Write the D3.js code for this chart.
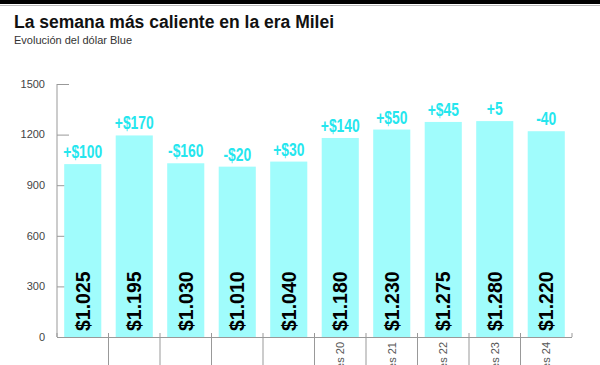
<!DOCTYPE html>
<html><head><meta charset="utf-8">
<script src="https://cdn.jsdelivr.net/npm/d3@7"></script>
<style>
html,body{margin:0;padding:0;background:#fff;overflow:hidden}
svg{display:block}
</style></head>
<body>
<svg id="chart" width="600" height="365"></svg>
<script>
const categories = ["Lunes 13","Martes 14","Miércoles 15","Jueves 16","Viernes 17","Lunes 20","Martes 21","Miércoles 22","Jueves 23","Viernes 24"];
const tickLabels = ["","","","","","Lunes 20","Martes 21","Miércoles 22","Jueves 23","Viernes 24"];
const values = [1025,1195,1030,1010,1040,1180,1230,1275,1280,1220];
const valueLabels = ["$1.025","$1.195","$1.030","$1.010","$1.040","$1.180","$1.230","$1.275","$1.280","$1.220"];
const changeLabels = ["+$100","+$170","-$160","-$20","+$30","+$140","+$50","+$45","+5","-40"];
const yTicks = [0,300,600,900,1200,1500];

const svg = d3.select("#chart");
const mLeft = 57, mRight = 572, mTop = 84, mBottom = 337;

svg.append("rect").attr("x",0).attr("y",0).attr("width",600).attr("height",4).attr("fill","#000");
svg.append("line").attr("x1",0).attr("x2",600).attr("y1",5.5).attr("y2",5.5).attr("stroke","#bbb").attr("stroke-width",1);

svg.append("text").attr("x",14).attr("y",28)
  .style("font-family","'Liberation Sans', Arial, sans-serif").style("font-weight","bold").style("font-size","17.5px")
  .attr("fill","#111").text("La semana más caliente en la era Milei");
svg.append("text").attr("x",14).attr("y",44)
  .style("font-family","'Liberation Sans', Arial, sans-serif").style("font-size","11px")
  .attr("fill","#333").text("Evolución del dólar Blue");

const x = d3.scaleBand().domain(categories).range([mLeft, mRight]).paddingInner(0.28).paddingOuter(0.14);
const y = d3.scaleLinear().domain([0,1500]).range([mBottom, mTop]);

// y axis
const yAxis = svg.append("g").attr("transform",`translate(${mLeft},0)`)
  .call(d3.axisRight(y).tickValues(yTicks).tickSize(12).tickFormat(""));
yAxis.select(".domain").remove();
yAxis.selectAll(".tick line").attr("stroke","#999");
svg.append("line").attr("x1",mLeft).attr("x2",mLeft).attr("y1",mTop).attr("y2",mBottom).attr("stroke","#999");
svg.append("g").selectAll("text").data(yTicks).join("text")
  .attr("x",45).attr("y",d=>y(d)).attr("dy","0.35em").attr("text-anchor","end")
  .style("font-family","'Liberation Sans', Arial, sans-serif").style("font-size","11px").attr("fill","#444")
  .text(d=>d);

// bars
svg.append("g").selectAll("rect").data(values).join("rect")
  .attr("x",(d,i)=>x(categories[i])).attr("width",x.bandwidth())
  .attr("y",d=>y(d)).attr("height",d=>y(0)-y(d)).attr("fill","#a0fcfc");

// x baseline and separators
const step = x.step();
const boundaries = d3.range(categories.length + 1).map(i => x(categories[0]) - step*x.paddingInner()/2 + i*step);
svg.append("line").attr("x1",mLeft).attr("x2",mRight).attr("y1",mBottom+0.5).attr("y2",mBottom+0.5).attr("stroke","#999");
svg.append("g").selectAll("line").data(boundaries).join("line")
  .attr("x1",d=>d).attr("x2",d=>d)
  .attr("y1",mBottom-4)
  .attr("y2",(d,i)=> (i>0 && i<categories.length) ? 365 : mBottom)
  .attr("stroke","#999");

// x labels
svg.append("g").selectAll("text").data(tickLabels).join("text")
  .attr("transform",(d,i)=>`translate(${x(categories[i])+x.bandwidth()/2},342) rotate(-90)`)
  .attr("dy","0.35em").attr("text-anchor","end")
  .style("font-family","'Liberation Sans', Arial, sans-serif").style("font-size","11px").attr("fill","#555")
  .text(d=>d);

// change labels (condensed)
svg.append("g").selectAll("text").data(values).join("text")
  .attr("transform",(d,i)=>`translate(${x(categories[i])+x.bandwidth()/2},${y(d)-6}) scale(0.77,1)`)
  .attr("text-anchor","middle")
  .style("font-family","'Liberation Sans', Arial, sans-serif").style("font-weight","bold").style("font-size","18px")
  .attr("fill","#25e6ee")
  .text((d,i)=>changeLabels[i]);

// value labels inside bars
svg.append("g").selectAll("text").data(values).join("text")
  .attr("transform",(d,i)=>`translate(${x(categories[i])+x.bandwidth()/2},331) rotate(-90)`)
  .attr("dy","0.36em").attr("text-anchor","start")
  .style("font-family","'Liberation Sans', Arial, sans-serif").style("font-weight","bold").style("font-size","19.5px")
  .attr("fill","#000")
  .text((d,i)=>valueLabels[i]);
</script>
</body></html>
